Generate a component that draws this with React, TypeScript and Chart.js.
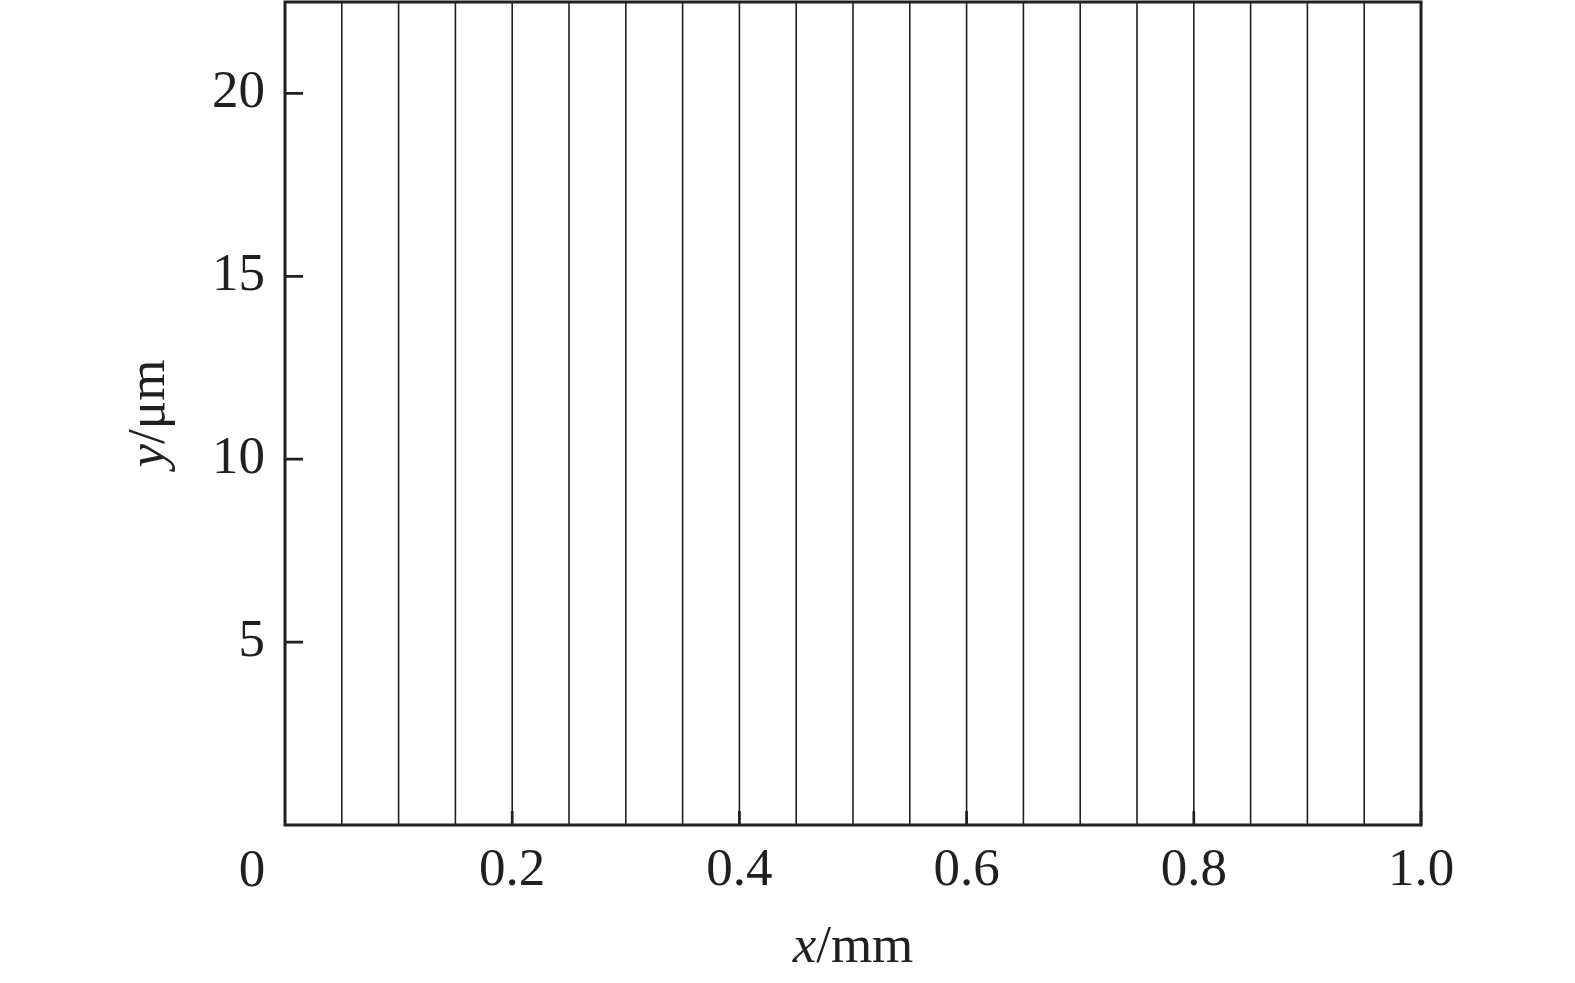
import React, { useEffect, useRef } from "react";
import { Chart, registerables } from "chart.js";

Chart.register(...registerables);

// Data
const lineXPositions = [0.05, 0.1, 0.15, 0.2, 0.25, 0.3, 0.35, 0.4, 0.45, 0.5, 0.55, 0.6, 0.65, 0.7, 0.75, 0.8, 0.85, 0.9, 0.95];
const lineBottom = 0;
const lineTop = 22.5;
const xTickValues = [0.2, 0.4, 0.6, 0.8, 1.0];
const xTickLabels = ["0.2", "0.4", "0.6", "0.8", "1.0"];
const yTickValues = [5, 10, 15, 20];
const yTickLabels = ["5", "10", "15", "20"];
const originLabel = "0";
const xTitleItalic = "x";
const xTitleRest = "/mm";
const yTitleItalic = "y";
const yTitleRest = "/μm";

const INK = "#231f20";
const FONT = "'Liberation Serif', 'Times New Roman', serif";
const FS = 53;

const decorPlugin = {
  id: "decor",
  afterDraw(chart: any) {
    const { ctx, chartArea } = chart;
    const xs = chart.scales.x;
    const ys = chart.scales.y;
    ctx.save();
    ctx.strokeStyle = INK;
    // inward ticks
    ctx.lineWidth = 2.7;
    ctx.beginPath();
    xTickValues.forEach((v) => {
      const px = xs.getPixelForValue(v);
      ctx.moveTo(px, chartArea.bottom);
      ctx.lineTo(px, chartArea.bottom - 14);
    });
    yTickValues.forEach((v) => {
      const py = ys.getPixelForValue(v);
      ctx.moveTo(chartArea.left, py);
      ctx.lineTo(chartArea.left + 18, py);
    });
    ctx.stroke();
    // frame
    ctx.lineWidth = 3;
    ctx.strokeRect(chartArea.left, chartArea.top, chartArea.right - chartArea.left, chartArea.bottom - chartArea.top);

    ctx.fillStyle = INK;
    // origin label
    ctx.font = `${FS}px ${FONT}`;
    ctx.textAlign = "center";
    ctx.textBaseline = "alphabetic";
    ctx.fillText(originLabel, xs.getPixelForValue(0) - 33, 886);

    // x title
    const italic = `italic ${FS}px ${FONT}`;
    const normal = `${FS}px ${FONT}`;
    ctx.font = italic;
    const wI = ctx.measureText(xTitleItalic).width;
    ctx.font = normal;
    const wR = ctx.measureText(xTitleRest).width;
    const cx = (chartArea.left + chartArea.right) / 2;
    let sx = cx - (wI + wR) / 2;
    ctx.textAlign = "left";
    ctx.font = italic;
    ctx.fillText(xTitleItalic, sx, 962);
    ctx.font = normal;
    ctx.fillText(xTitleRest, sx + wI, 962);

    // y title
    ctx.font = italic;
    const yI = ctx.measureText(yTitleItalic).width;
    ctx.font = normal;
    const yR = ctx.measureText(yTitleRest).width;
    const cy = (chartArea.top + chartArea.bottom) / 2;
    ctx.translate(164, cy);
    ctx.rotate(-Math.PI / 2);
    const s = -(yI + yR) / 2;
    ctx.font = italic;
    ctx.fillText(yTitleItalic, s, 0);
    ctx.font = normal;
    ctx.fillText(yTitleRest, s + yI, 0);
    ctx.restore();
  },
};

export default function App() {
  const ref = useRef<HTMLCanvasElement | null>(null);
  useEffect(() => {
    if (!ref.current) return;
    const datasets = lineXPositions.map((x) => ({
      data: [
        { x, y: lineBottom },
        { x, y: lineTop },
      ],
      borderColor: INK,
      borderWidth: 1.6,
      pointRadius: 0,
      fill: false,
    }));
    const chart = new Chart(ref.current, {
      type: "line",
      data: { datasets },
      plugins: [decorPlugin],
      options: {
        responsive: false,
        animation: false,
        events: [],
        layout: { padding: { top: 2, right: 154, left: 0, bottom: 0 } },
        plugins: { legend: { display: false }, tooltip: { enabled: false } },
        scales: {
          x: {
            type: "linear",
            min: 0,
            max: 1,
            grid: { display: false, drawTicks: false },
            border: { display: false },
            afterBuildTicks: (s: any) => {
              s.ticks = xTickValues.map((v) => ({ value: v }));
            },
            afterFit: (s: any) => {
              s.height = 158;
              s.paddingLeft = 0;
              s.paddingRight = 0;
            },
            ticks: {
              padding: 14,
              color: INK,
              font: { family: FONT, size: FS },
              maxRotation: 0,
              autoSkip: false,
              callback: (v: any) => {
                const i = xTickValues.findIndex((t) => Math.abs(t - Number(v)) < 1e-9);
                return i >= 0 ? xTickLabels[i] : "";
              },
            },
          },
          y: {
            type: "linear",
            min: 0,
            max: lineTop,
            grid: { display: false, drawTicks: false },
            border: { display: false },
            afterBuildTicks: (s: any) => {
              s.ticks = yTickValues.map((v) => ({ value: v }));
            },
            afterFit: (s: any) => {
              s.width = 285;
              s.paddingTop = 0;
              s.paddingBottom = 0;
            },
            ticks: {
              padding: 20,
              color: INK,
              font: { family: FONT, size: FS },
              autoSkip: false,
              callback: (v: any) => {
                const i = yTickValues.findIndex((t) => Math.abs(t - Number(v)) < 1e-9);
                return i >= 0 ? yTickLabels[i] : "";
              },
            },
          },
        },
      },
    });
    return () => chart.destroy();
  }, []);
  return (
    <div style={{ position: "absolute", left: 0, top: 0, width: 1575, height: 983, background: "#fff" }}>
      <canvas ref={ref} width={1575} height={983} style={{ display: "block" }} />
    </div>
  );
}
